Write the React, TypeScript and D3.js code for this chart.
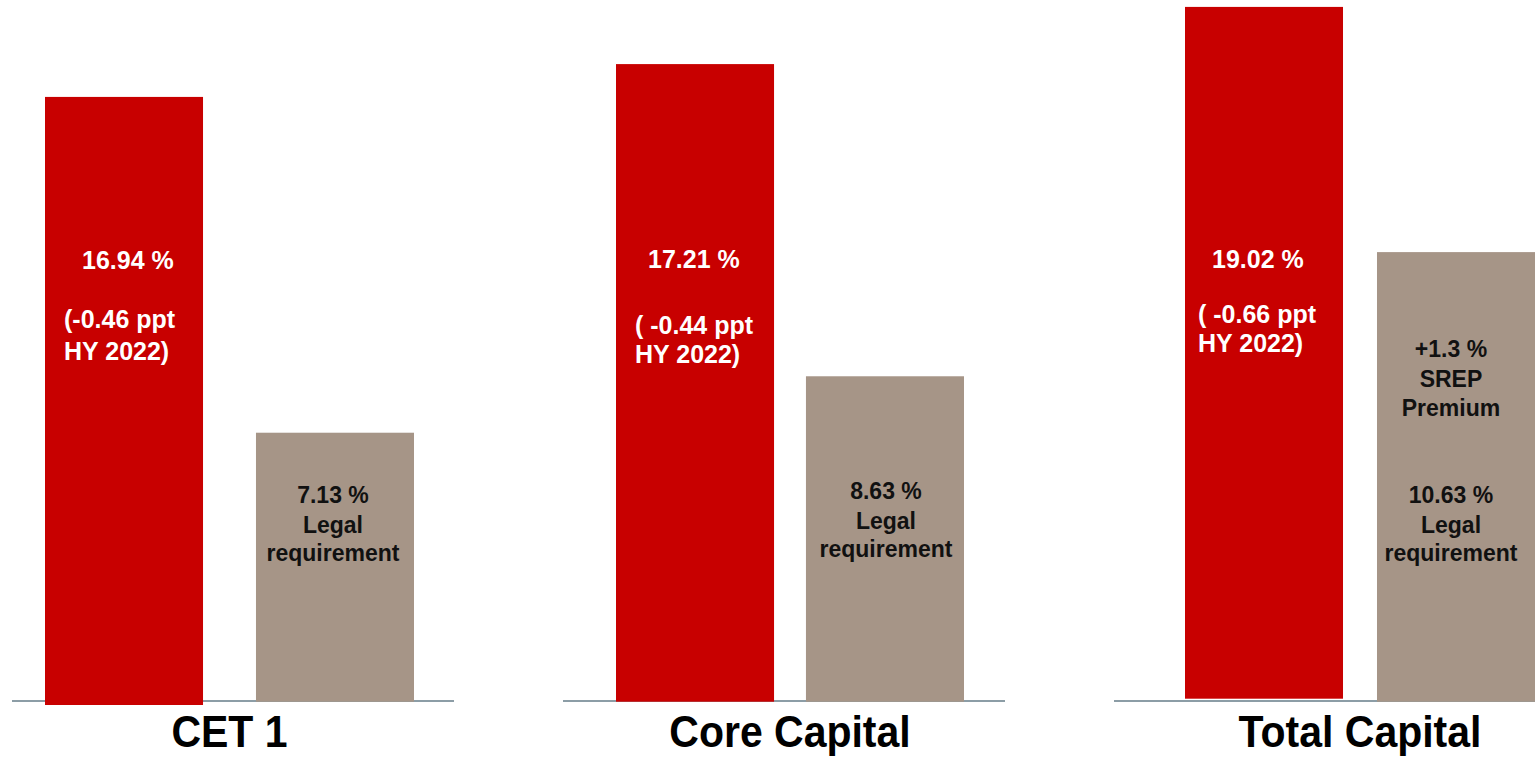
import React from "react";
import * as d3 from "d3";

// ---- data ----
const categories = ["CET 1", "Core Capital", "Total Capital"];
const ratioValues = [16.94, 17.21, 19.02];
const ratioChanges = ["(-0.46 ppt", "( -0.44 ppt", "( -0.66 ppt"];
const changeRefLabel = "HY 2022)";
const legalRequirement = [7.13, 8.63, 10.63];
const srepPremium = [0, 0, 1.3];
const srepLabel = ["SREP", "Premium"];
const legalLabel = ["Legal", "requirement"];

// ---- layout ----
const W = 1535;
const H = 758;
const BASE_Y = 701;
const panels = [
  {
    line: [12, 454], bars: [45, 414], padInner: 0.251,
    ratioBase: 705, ratioMax: 19.64,
    redX: [37, 19], redY: [269, 328, 360],
    greyDx: -2, greyY: [503, 533, 561],
  },
  {
    line: [563, 1005], bars: [616, 964], padInner: 0.168,
    ratioBase: 701.7, ratioMax: 18.94,
    redX: [32, 19], redY: [268, 334, 363],
    greyDx: 1, greyY: [499, 529, 557],
  },
  {
    line: [1114, 1535], bars: [1185, 1535], padInner: 0.177,
    ratioBase: 698.7, ratioMax: 19.21,
    redX: [27, 13], redY: [268, 323, 352],
    greyDx: -5, greyY: [503, 533, 561],
  },
];
const LABEL_Y = 747;
const REQ_MAX = 18.63;
const SREP_Y = [357, 387, 416];
const RED = "#C80000";
const GREY = "#A69587";
const LINE = "#8C9DA6";
const FONT = "'Liberation Sans', Arial, sans-serif";

const fmt = (v: number) => `${v.toFixed(2)} %`;

export default function App() {
  const yReq = d3.scaleLinear().domain([0, REQ_MAX]).range([BASE_Y, 0]);
  return (
    <svg
      width={W}
      height={H}
      style={{ position: "absolute", left: 0, top: 0, background: "#fff" }}
      fontFamily={FONT}
    >
      {categories.map((cat, i) => {
        const p = panels[i];
        const x = d3
          .scaleBand<string>()
          .domain(["ratio", "req"])
          .range(p.bars as [number, number])
          .paddingInner(p.padInner)
          .paddingOuter(0);
        const yRatio = d3.scaleLinear().domain([0, p.ratioMax]).range([p.ratioBase, 0]);
        const bw = x.bandwidth();
        const xr = x("ratio")!;
        const xg = x("req")!;
        const legal = legalRequirement[i];
        const srep = srepPremium[i];
        const cx = (p.bars[0] + p.bars[1]) / 2;
        const gx = xg + bw / 2 + p.greyDx;
        return (
          <g key={cat}>
            <line
              x1={p.line[0]}
              x2={p.line[1]}
              y1={BASE_Y}
              y2={BASE_Y}
              stroke={LINE}
              strokeWidth={2}
            />
            {/* red ratio bar */}
            <rect
              x={xr}
              y={yRatio(ratioValues[i])}
              width={bw}
              height={yRatio(0) - yRatio(ratioValues[i])}
              fill={RED}
            />
            {/* legal requirement bar */}
            <rect x={xg} y={yReq(legal)} width={bw} height={yReq(0) - yReq(legal) + 0.7} fill={GREY} />
            {srep > 0 && (
              <rect
                x={xg}
                y={yReq(legal + srep)}
                width={bw}
                height={yReq(legal) - yReq(legal + srep) + 0.5}
                fill={GREY}
              />
            )}
            {/* red bar labels */}
            <g fill="#fff" fontWeight="bold" fontSize={25}>
              <text x={xr + p.redX[0]} y={p.redY[0]}>
                {fmt(ratioValues[i])}
              </text>
              <text x={xr + p.redX[1]} y={p.redY[1]}>
                {ratioChanges[i]}
              </text>
              <text x={xr + p.redX[1]} y={p.redY[2]}>
                {changeRefLabel}
              </text>
            </g>
            {/* grey bar labels */}
            <g fill="#111" fontWeight="bold" fontSize={23} textAnchor="middle">
              {srep > 0 && (
                <>
                  <text x={gx} y={SREP_Y[0]}>{`+${srep} %`}</text>
                  <text x={gx} y={SREP_Y[1]}>{srepLabel[0]}</text>
                  <text x={gx} y={SREP_Y[2]}>{srepLabel[1]}</text>
                </>
              )}
              <text x={gx} y={p.greyY[0]}>{fmt(legal)}</text>
              <text x={gx} y={p.greyY[1]}>{legalLabel[0]}</text>
              <text x={gx} y={p.greyY[2]}>{legalLabel[1]}</text>
            </g>
            {/* category label */}
            <text
              transform={`translate(${cx},${LABEL_Y}) scale(1,1.1)`}
              textAnchor="middle"
              fontWeight="bold"
              fontSize={41}
              fill="#000"
            >
              {cat}
            </text>
          </g>
        );
      })}
    </svg>
  );
}
